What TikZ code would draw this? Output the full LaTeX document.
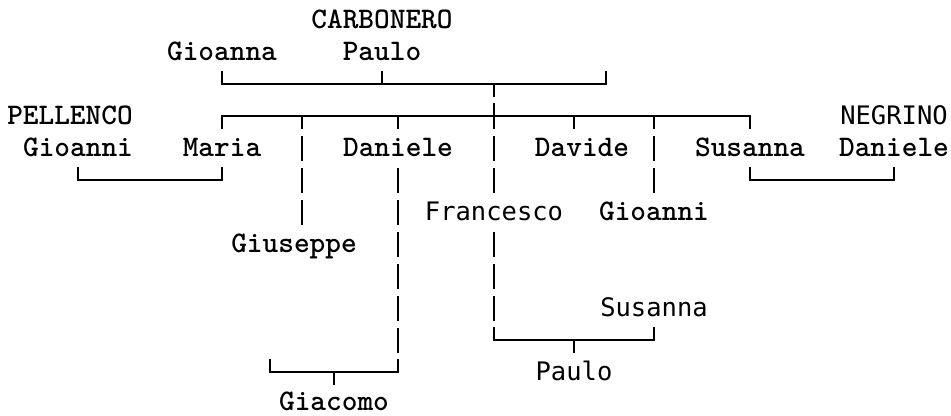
\documentclass[tikz,border=0pt]{standalone}
\usepackage{fontspec}
\newfontfamily\gothic{DejaVu Sans Mono}
\usetikzlibrary{positioning}

\begin{document}
\begin{tikzpicture}[
    x=0.02cm, y=-0.02cm,
    person/.style={anchor=base, inner sep=0pt, font=\fontsize{17}{17}\selectfont\ttfamily\bfseries},
    gperson/.style={anchor=base, inner sep=0pt, font=\fontsize{14.5}{14.5}\selectfont\gothic},
    bar/.style={line width=0.04cm},
    pipe/.style={line width=0.04cm, dash pattern=on 0.5cm off 0.14cm}
]
    \useasboundingbox (0,0) rectangle (951,416);

    % grandparents
    \node[person] (carb) at (382,28) {CARBONERO};
    \node[person] (gioanna) at (222,60) {Gioanna};
    \node[person] (paulo) at (382,60) {Paulo};

    % children and in-laws
    \node[person] (pell) at (70,124) {PELLENCO};
    \node[gperson] (negrino) at (894,124) {NEGRINO};
    \node[person] (gioanniL) at (78,156) {Gioanni};
    \node[person] (maria) at (222,156) {Maria};
    \node[person] (danieleM) at (398,156) {Daniele};
    \node[person] (davide) at (582,156) {Davide};
    \node[person] (susannaT) at (750,156) {Susanna};
    \node[person] (danieleR) at (894,156) {Daniele};
    \node[gperson] (francesco) at (494,220) {Francesco};
    \node[person] (gioanniM) at (654,220) {Gioanni};
    \node[person] (giuseppe) at (294,252) {Giuseppe};

    % grandchildren
    \node[gperson] (susannaB) at (654,316) {Susanna};
    \node[gperson] (pauloB) at (574,380) {Paulo};
    \node[person] (giacomo) at (334,410) {Giacomo};

    % top couple
    \draw[bar] (gioanna.base |- 0,71) -- (gioanna.base |- 0,84) -- (606,84) -- (606,71);
    \draw[bar] (paulo.base |- 0,71) -- (paulo.base |- 0,84);
    \draw[bar] (francesco.base |- 0,84) -- (francesco.base |- 0,97);

    % row of children
    \draw[bar] (maria.base |- 0,129) -- (maria.base |- 0,116) -- (susannaT.base |- 0,116) -- (susannaT.base |- 0,129);
    \foreach \x in {302,398,574,654}
        \draw[bar] (\x,116) -- (\x,129);
    \draw[bar] (francesco.base |- 0,103) -- (francesco.base |- 0,129);

    \draw[pipe] (302,136) -- (302,226);
    \draw[pipe] (danieleM.base |- 0,168) -- (danieleM.base |- 0,354);
    \draw[pipe] (francesco.base |- 0,136) -- (francesco.base |- 0,194);
    \draw[pipe] (gioanniM.base |- 0,136) -- (gioanniM.base |- 0,194);
    \draw[pipe] (francesco.base |- 0,232) -- (francesco.base |- 0,322);

    % marriages
    \draw[bar] (gioanniL.base |- 0,167) -- (gioanniL.base |- 0,180) -- (maria.base |- 0,180) -- (maria.base |- 0,167);
    \draw[bar] (susannaT.base |- 0,167) -- (susannaT.base |- 0,180) -- (danieleR.base |- 0,180) -- (danieleR.base |- 0,167);
    \draw[bar] (francesco.base |- 0,327) -- (francesco.base |- 0,340) -- (susannaB.base |- 0,340) -- (susannaB.base |- 0,327);
    \draw[bar] (pauloB.base |- 0,340) -- (pauloB.base |- 0,353);
    \draw[bar] (270,359) -- (270,372) -- (danieleM.base |- 0,372) -- (danieleM.base |- 0,359);
    \draw[bar] (giacomo.base |- 0,372) -- (giacomo.base |- 0,385);
\end{tikzpicture}
\end{document}
